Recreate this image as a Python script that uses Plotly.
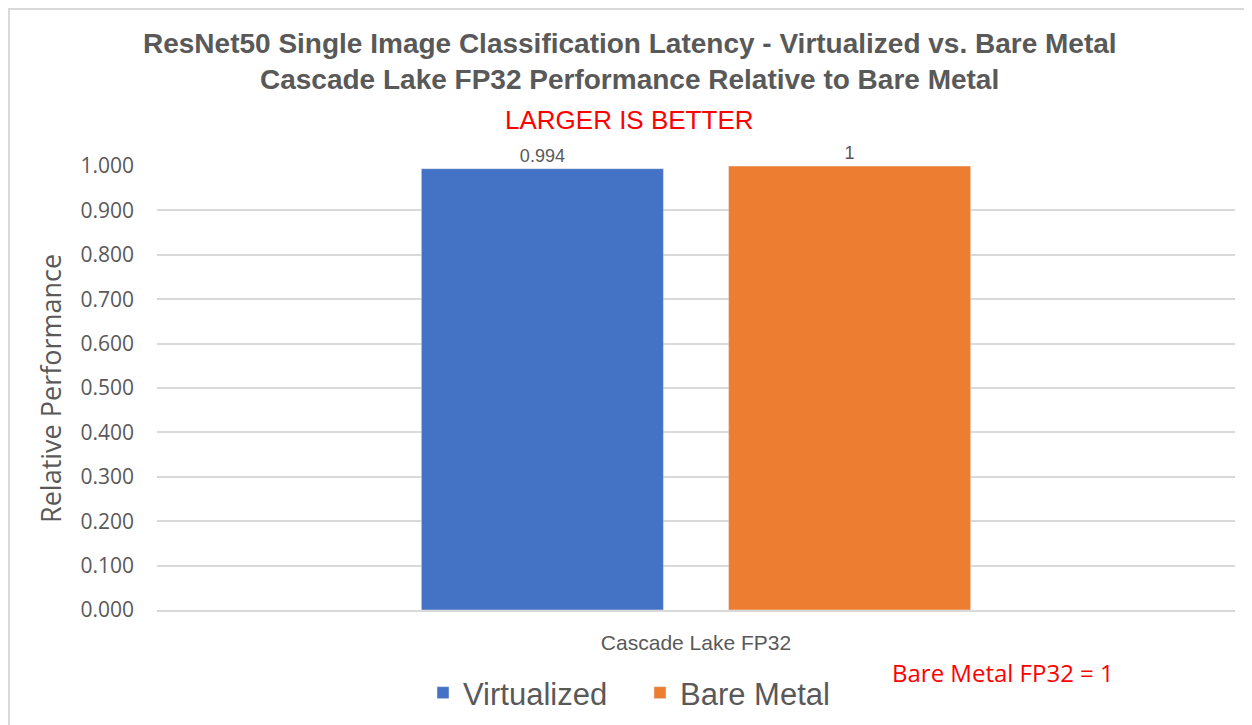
import plotly.graph_objects as go

categories = ["Cascade Lake FP32"]
series_names = ["Virtualized", "Bare Metal"]
virtualized = [0.994]
bare_metal = [1]
y_ticks = [0.0, 0.1, 0.2, 0.3, 0.4, 0.5, 0.6, 0.7, 0.8, 0.9, 1.0]
y_tick_labels = ["%.3f" % v for v in y_ticks]

colors = ["#4472C4", "#ED7D31"]
sans = "Arial, Liberation Sans, sans-serif"
gill = "Open Sans, sans-serif"
gray = "#595959"

OFF = 8  # page body margin
W, H = 1252 - OFF, 725 - OFF
# plot area in page pixels: x 157..1235, y 166..610
L, R, T, B = 157 - OFF, 17, 166 - OFF, 115

fig = go.Figure()
for name, vals, c in zip(series_names, [virtualized, bare_metal], colors):
    fig.add_trace(go.Bar(
        x=categories, y=vals, name=name, marker_color=c,
        text=[str(v) for v in vals], textposition="outside",
        textfont=dict(family=sans, size=18, color=gray),
        cliponaxis=False,
    ))

def px_x(p):
    return (p - OFF - L) / (W - L - R)

def px_y(p):
    return (H - B - (p - OFF)) / (H - T - B)

fig.update_layout(
    width=W, height=H,
    margin=dict(l=L, r=R, t=T, b=B, autoexpand=False),
    paper_bgcolor="white", plot_bgcolor="white",
    barmode="group", bargap=0.43, bargroupgap=0.212,
    showlegend=True,
    legend=dict(orientation="h", x=px_x(423), xanchor="left",
                y=px_y(693), yanchor="middle",
                entrywidth=172, entrywidthmode="pixels",
                font=dict(family=sans, size=31, color=gray),
                traceorder="normal"),
    yaxis=dict(range=[0, 1], tickvals=y_ticks, ticktext=y_tick_labels,
               showgrid=True, gridcolor="#d9d9d9", gridwidth=1.5,
               zeroline=False, showline=False, automargin=False,
               tickfont=dict(family=gill, size=21, color=gray),
               ticks="", ticklabelstandoff=22),
    xaxis=dict(showline=True, linecolor="#d9d9d9", linewidth=1.5, ticks="",
               automargin=False,
               tickfont=dict(family=sans, size=21, color=gray),
               ticklabelstandoff=13),
    annotations=[
        dict(text="<b>ResNet50 Single Image Classification Latency - Virtualized vs. Bare Metal</b>",
             xref="paper", yref="paper", x=px_x(630), y=px_y(43), showarrow=False,
             xanchor="center", yanchor="middle",
             font=dict(family=sans, size=28, color=gray)),
        dict(text="<b>Cascade Lake FP32 Performance Relative to Bare Metal</b>",
             xref="paper", yref="paper", x=px_x(629), y=px_y(80), showarrow=False,
             xanchor="center", yanchor="middle",
             font=dict(family=sans, size=28, color=gray)),
        dict(text="LARGER IS BETTER",
             xref="paper", yref="paper", x=px_x(629), y=px_y(120), showarrow=False,
             xanchor="center", yanchor="middle",
             font=dict(family=sans, size=26, color="#FF0000")),
        dict(text="Relative Performance", textangle=-90,
             xref="paper", yref="paper", x=px_x(50), y=px_y(389), showarrow=False,
             xanchor="center", yanchor="middle",
             font=dict(family=gill, size=27, color=gray)),
        dict(text="Bare Metal FP32 = 1",
             xref="paper", yref="paper", x=px_x(890), y=px_y(672), showarrow=False,
             xanchor="left", yanchor="middle",
             font=dict(family=gill, size=24, color="#FF0000")),
    ],
    shapes=[
        dict(type="line", xref="paper", yref="paper",
             x0=px_x(OFF), x1=px_x(1252), y0=px_y(OFF + 1), y1=px_y(OFF + 1),
             line=dict(color="#d9d9d9", width=2)),
        dict(type="line", xref="paper", yref="paper",
             x0=px_x(OFF + 1), x1=px_x(OFF + 1), y0=px_y(OFF), y1=px_y(725),
             line=dict(color="#d9d9d9", width=2)),
    ],
)

fig.write_html("out.html")
